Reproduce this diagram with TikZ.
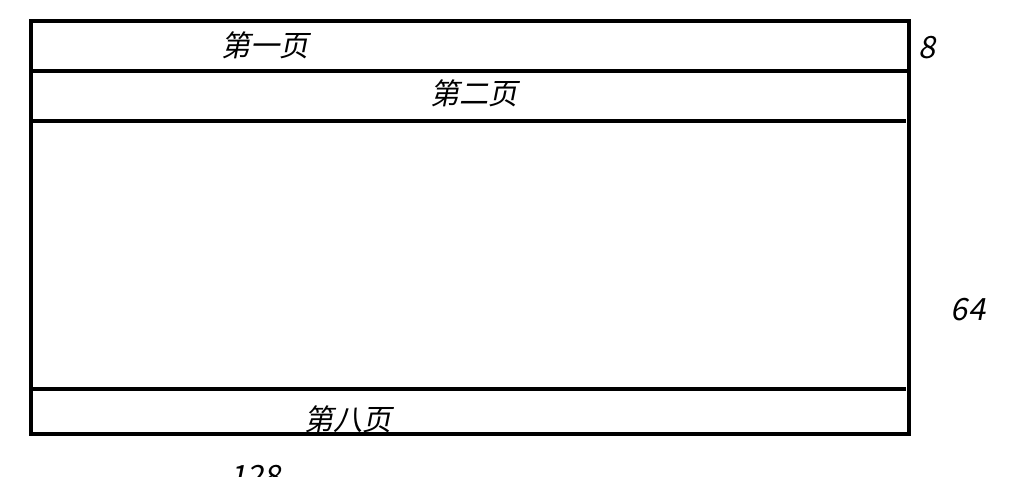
\documentclass[tikz,border=0pt]{standalone}
\usepackage{fontspec}
\newfontfamily\cjk[FakeSlant=0.2]{Noto Sans CJK SC}
\usepackage{tikz}
\usetikzlibrary{positioning}

\begin{document}
\begin{tikzpicture}[x=0.75pt,y=-0.75pt,line width=2.4pt,
  lbl/.style={font=\cjk\fontsize{22}{22}\selectfont,inner sep=0pt},
  num/.style={font=\cjk\fontsize{23}{23}\selectfont,inner sep=0pt}]
\useasboundingbox (0,0) rectangle (1020,477);
\draw (31,21) rectangle (909,434);
\draw (31,71) -- (909,71);
\draw (31,121) -- (906,121);
\draw (31,389) -- (906,389);
\node[lbl] (P1) at (265,45) {第一页};
\node[lbl] (P2) at (474,93) {第二页};
\node[lbl] (P8) at (348,419) {第八页};
\node[num] (H) at (927,48) {8};
\node[num] (V) at (968,310) {64};
\node[num] (W) at (255,477) {128};
\end{tikzpicture}
\end{document}
